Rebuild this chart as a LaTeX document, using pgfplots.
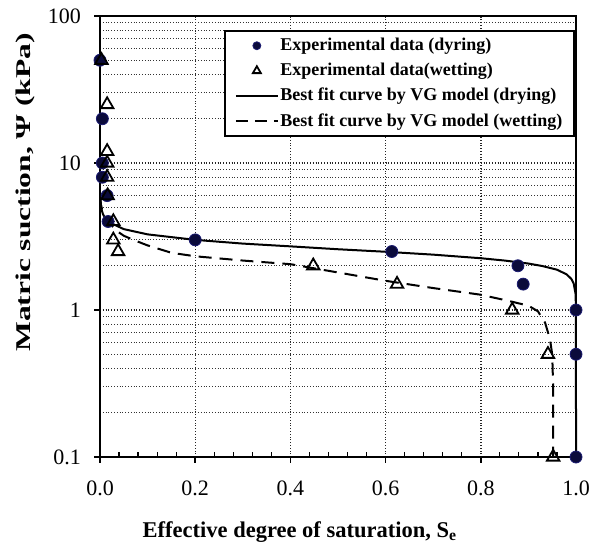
\documentclass[border=0pt]{standalone}
\usepackage{fontspec}
\setmainfont{Liberation Serif}
\usepackage{graphicx}
\usepackage{pgfplots}
\pgfplotsset{compat=1.18}
\definecolor{navy}{HTML}{0B0B3B}
\definecolor{navyedge}{HTML}{1A1A70}
\pgfplotstableread{
x y
0.0   50
0.005 20
0.005 10
0.005 8
0.015 6
0.017 4
0.2   3
0.613 2.5
0.878 2
0.889 1.5
1.0   1
1.0   0.5
1.0   0.1
}\drydata
\pgfplotstableread{
x y
0.003 50
0.015 25
0.015 12
0.015 10
0.015 8
0.016 6
0.028 4
0.028 3
0.038 2.5
0.448 2
0.624 1.5
0.866 1
0.941 0.5
0.952 0.1
}\wetdata
\pgfplotstableread{
x y
0.0005 5.94
0.001 5.50
0.003 4.87
0.006 4.51
0.01 4.26
0.02 3.94
0.05 3.55
0.1 3.27
0.2 3.0
0.3 2.83
0.4 2.71
0.5 2.59
0.6 2.49
0.7 2.38
0.8 2.25
0.85 2.17
0.9 2.07
0.93 1.99
0.96 1.88
0.98 1.75
0.99 1.63
0.995 1.52
0.999 1.29
0.9999 1.03
1.0 0.1
}\drycurve
\pgfplotstableread{
x y
0.0005 5.9
0.002 5.2
0.005 4.7
0.01 4.3
0.02 3.9
0.035 3.45
0.05 3.2
0.07 3.0
0.1 2.75
0.15 2.45
0.2 2.32
0.3 2.17
0.4 2.05
0.5 1.80
0.6 1.58
0.7 1.41
0.8 1.27
0.86 1.15
0.9 1.07
0.92 0.98
0.935 0.82
0.945 0.64
0.95 0.5
0.952 0.3
0.952 0.1
}\wetcurve
\begin{document}
\begin{tikzpicture}
\begin{axis}[
  scale only axis, width=238pt, height=220.5pt,
  xmin=0, xmax=1, ymode=log, ymin=0.1, ymax=100,
  clip=false,
  axis line style={line width=1pt},
  xtick={0,0.2,0.4,0.6,0.8,1}, xticklabels={0.0,0.2,0.4,0.6,0.8,1.0},
  ytick={0.1,1,10,100}, yticklabels={0.1,1,10,100},
  minor x tick num=4,
  tick pos=left, tick align=outside,
  major tick length=3pt, minor tick length=2.5pt,
  major tick style={line width=0.8pt, black},
  minor x tick style={yshift=2.5pt, line width=0.6pt, black},
  minor y tick style={draw=none},
  xmajorgrids, ymajorgrids, yminorgrids,
  major grid style={densely dotted, line width=0.7pt, black!85},
  minor grid style={densely dotted, line width=0.6pt, black!80},
  tick label style={font=\fontsize{11}{13}\selectfont},
  xticklabel style={yshift=-5.5pt},
  yticklabel style={xshift=-3pt},
  xlabel={Effective degree of saturation, S\textsubscript{e}},
  xlabel style={at={(axis description cs:0.42,0)}, anchor=base, yshift=-40pt, font=\bfseries\fontsize{11.25}{13}\selectfont},
  ylabel={\scalebox{1.5}[1]{Matric suction, Ψ (kPa)}},
  ylabel style={at={(axis description cs:-0.1576,0.6)}, anchor=center, font=\bfseries\fontsize{10.5}{12}\selectfont},
  legend style={at={(rel axis cs:1,1)}, anchor=north east, xshift=-0.5pt, yshift=-7pt,
    draw=black, line width=1pt, fill=white,
    font=\bfseries\fontsize{9}{10.8}\selectfont,
    inner xsep=5pt, inner ysep=2pt, row sep=1.8pt,
    nodes={inner xsep=0.8pt, inner ysep=1.5pt},
    cells={anchor=west}},
  legend image code/.code={\draw[mark repeat=2,mark phase=2,#1] plot coordinates {(0pt,0pt)(10.5pt,0pt)(21pt,0pt)};},
]
\addplot[forget plot, black, line width=1pt, line join=round] table {\drycurve};
\addplot[forget plot, black, line width=1pt, line join=round, dash pattern=on 6.5pt off 4pt] table {\wetcurve};
\addplot[forget plot, only marks, mark=*, mark size=3pt, mark options={fill=navy, draw=navyedge, line width=0.4pt}] table {\drydata};
\addplot[forget plot, only marks, mark=triangle, mark size=3.6pt, mark options={draw=black, fill=none, line width=0.9pt}] table {\wetdata};
\addlegendimage{only marks, mark=*, mark size=2pt, mark options={fill=navy, draw=navyedge, line width=0.4pt}}
\addlegendentry{Experimental data (dyring)}
\addlegendimage{only marks, mark=triangle, mark size=2.3pt, mark options={draw=black, fill=none, line width=0.9pt}}
\addlegendentry{Experimental data(wetting)}
\addlegendimage{black, line width=1pt}
\addlegendentry{Best fit curve by VG model (drying)}
\addlegendimage{black, line width=1pt, dash pattern=on 6pt off 3.5pt}
\addlegendentry{Best fit curve by VG model (wetting)}
\end{axis}
\pgfresetboundingbox
\path ([shift={(-50pt,-43.5pt)}]current axis.south west) rectangle ([shift={(7.5pt,8pt)}]current axis.north east);
\end{tikzpicture}
\end{document}
